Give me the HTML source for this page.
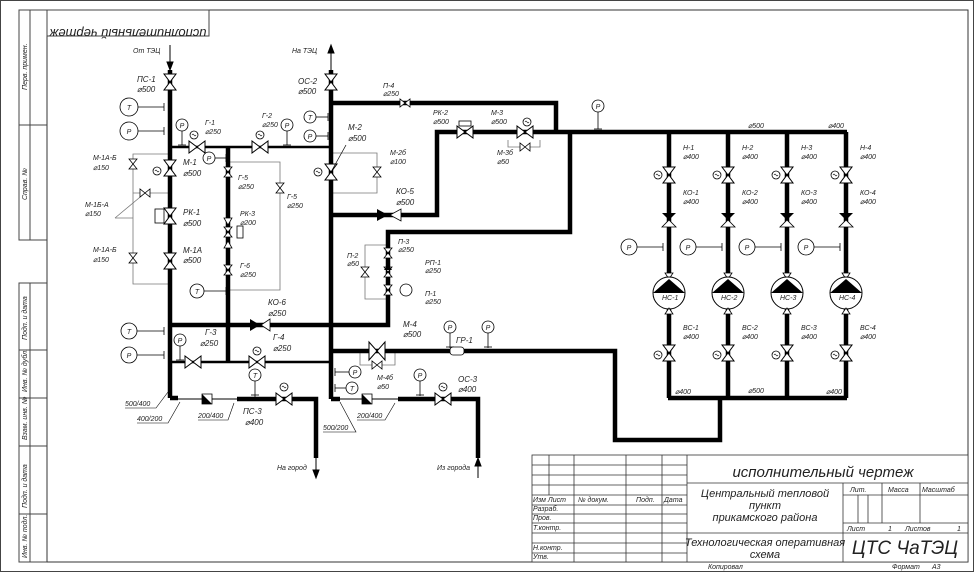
<!DOCTYPE html>
<html><head><meta charset="utf-8"><style>
html,body{margin:0;padding:0;background:#fff}
svg{display:block}
text{font-family:"Liberation Sans",sans-serif;font-style:italic;fill:#222}
.s{font-size:7px}
.m{font-size:8px}
</style></head><body>
<svg width="974" height="572" viewBox="0 0 974 572" xmlns="http://www.w3.org/2000/svg">
<defs>
<g id="vv"><polygon points="-6,-8 6,-8 0,0" fill="#fff" stroke="#000" stroke-width="1"/><polygon points="-6,8 6,8 0,0" fill="#fff" stroke="#000" stroke-width="1"/></g>
<g id="vh"><polygon points="-8,-6 -8,6 0,0" fill="#fff" stroke="#000" stroke-width="1"/><polygon points="8,-6 8,6 0,0" fill="#fff" stroke="#000" stroke-width="1"/></g>
<g id="vsv"><polygon points="-4,-5 4,-5 0,0" fill="#fff" stroke="#000" stroke-width="0.8"/><polygon points="-4,5 4,5 0,0" fill="#fff" stroke="#000" stroke-width="0.8"/></g>
<g id="vsh"><polygon points="-5,-4 -5,4 0,0" fill="#fff" stroke="#000" stroke-width="0.8"/><polygon points="5,-4 5,4 0,0" fill="#fff" stroke="#000" stroke-width="0.8"/></g>
<g id="act"><circle r="4" fill="#fff" stroke="#000" stroke-width="0.8"/><path d="M-2,0 q1,-2 2,0 t2,0" fill="none" stroke="#000" stroke-width="0.6"/></g>
</defs>
<rect x="0.5" y="0.5" width="973" height="571" fill="none" stroke="#444"/>
<!-- frame -->
<rect x="47" y="10" width="921" height="552" fill="none" stroke="#333" stroke-width="1"/>
<polyline points="47,10 19,10 19,240 47,240" fill="none" stroke="#444"/>
<line x1="30" y1="10" x2="30" y2="240" stroke="#444"/>
<line x1="19" y1="125" x2="47" y2="125" stroke="#444"/>
<polyline points="47,283 19,283 19,562 47,562" fill="none" stroke="#444"/>
<line x1="30" y1="283" x2="30" y2="562" stroke="#444"/>
<g stroke="#444"><line x1="19" y1="350" x2="47" y2="350"/><line x1="19" y1="398" x2="47" y2="398"/><line x1="19" y1="446" x2="47" y2="446"/><line x1="19" y1="514" x2="47" y2="514"/></g>
<g class="s">
<text transform="translate(27,90) rotate(-90)">Перв. примен.</text>
<text transform="translate(27,200) rotate(-90)">Справ. №</text>
<text transform="translate(27,340) rotate(-90)">Подп. и дата</text>
<text transform="translate(27,392) rotate(-90)">Инв. № дубл.</text>
<text transform="translate(27,440) rotate(-90)">Взам. инв. №</text>
<text transform="translate(27,508) rotate(-90)">Подп. и дата</text>
<text transform="translate(27,558) rotate(-90)">Инв. № подл.</text>
</g>
<rect x="47" y="10" width="162" height="26" fill="none" stroke="#444"/>
<text x="128" y="17" font-size="13" text-anchor="middle" transform="rotate(180 128 23)">исполнительный чертеж</text>

<!-- gray thin lines -->
<g stroke="#777" stroke-width="0.8" fill="none">
<polyline points="170,154 133,154 133,284 170,284"/>
<line x1="133" y1="193" x2="170" y2="193"/>
<polyline points="228,162 280,162 280,290 228,290"/>
<polyline points="331,153 377,153 377,193 331,193"/>
<polyline points="388,245 365,245 365,299 388,299"/>
<polyline points="508,140 508,147 540,147 540,140"/>
<polyline points="360,351 360,365 395,365 395,351"/>
<line x1="115" y1="218" x2="133" y2="218"/>
<line x1="115" y1="218" x2="145" y2="193"/>
</g>

<!-- thick pipes -->
<g stroke="#000" stroke-width="4.5" fill="none" stroke-linejoin="miter">
<line x1="170" y1="70" x2="170" y2="398"/>
<polyline points="331,70 331,399"/>
<polyline points="331,103 556,103 556,132"/>
<polyline points="331,215 437,215 437,132 847,132"/>
<polyline points="331,325 388,325 388,232 570,232 570,132"/>
<line x1="170" y1="325" x2="331" y2="325"/>
<line x1="228" y1="147" x2="228" y2="362"/>
<polyline points="331,351 615,351 615,440 720,440 720,398"/>
<line x1="668" y1="398" x2="847" y2="398"/>
<line x1="669" y1="132" x2="669" y2="398"/>
<line x1="728" y1="132" x2="728" y2="398"/>
<line x1="787" y1="132" x2="787" y2="398"/>
<line x1="846" y1="132" x2="846" y2="398"/>
<polyline points="237,399 316,399 316,458"/>
<polyline points="398,399 478,399 478,458"/>
<polyline points="170,398 178,398"/>
<polyline points="331,399 340,399"/>
</g>
<g stroke="#000" stroke-width="2.5" fill="none">
<line x1="170" y1="147" x2="331" y2="147"/>
<line x1="170" y1="362" x2="331" y2="362"/>
</g>
<g stroke="#000" stroke-width="1" fill="none">
<line x1="178" y1="399" x2="237" y2="399"/>
<line x1="340" y1="399" x2="398" y2="399"/>
<line x1="170" y1="45" x2="170" y2="70"/><polygon points="167,62 173,62 170,70" fill="#000"/>
<line x1="331" y1="45" x2="331" y2="70"/><polygon points="328,53 334,53 331,45" fill="#000"/>
<line x1="316" y1="458" x2="316" y2="478"/><polygon points="313,470 319,470 316,478" fill="#000"/>
<line x1="478" y1="458" x2="478" y2="478"/><polygon points="475,466 481,466 478,458" fill="#000"/>
</g>
<g class="s">
<text x="133" y="53">От ТЭЦ</text><text x="292" y="53">На ТЭЦ</text>
<text x="277" y="470">На город</text><text x="437" y="470">Из города</text>
</g>

<!-- valves left column -->
<use href="#vv" x="170" y="82"/><text class="m" x="137" y="82">ПС-1</text><text class="m" x="137" y="92">⌀500</text>
<use href="#vv" x="170" y="168"/><use href="#act" x="157" y="171"/><text class="m" x="183" y="165">М-1</text><text class="m" x="183" y="176">⌀500</text>
<use href="#vv" x="170" y="216"/><rect x="155" y="209" width="9" height="14" fill="#fff" stroke="#000" stroke-width="0.8"/><text class="m" x="183" y="215">РК-1</text><text class="m" x="183" y="226">⌀500</text>
<use href="#vv" x="170" y="261"/><text class="m" x="183" y="253">М-1А</text><text class="m" x="183" y="263">⌀500</text>
<use href="#vsv" x="133" y="164"/><text class="s" x="93" y="160">М-1А-Б</text><text class="s" x="93" y="170">⌀150</text>
<use href="#vsh" x="145" y="193"/><text class="s" x="85" y="207">М-1Б-А</text><text class="s" x="85" y="216">⌀150</text>
<use href="#vsv" x="133" y="258"/><text class="s" x="93" y="252">М-1А-Б</text><text class="s" x="93" y="262">⌀150</text>

<!-- gauges -->
<g fill="#fff" stroke="#000" stroke-width="0.8">
<circle cx="129" cy="107" r="9"/><circle cx="129" cy="131" r="9"/><circle cx="182" cy="125" r="6"/><circle cx="287" cy="125" r="6"/>
<circle cx="209" cy="158" r="6"/><circle cx="310" cy="117" r="6"/><circle cx="310" cy="136" r="6"/><circle cx="197" cy="291" r="7"/>
<circle cx="129" cy="331" r="8"/><circle cx="129" cy="355" r="8"/><circle cx="180" cy="340" r="6"/><circle cx="255" cy="375" r="6"/>
<circle cx="355" cy="372" r="6"/><circle cx="352" cy="388" r="6"/><circle cx="450" cy="327" r="6"/><circle cx="488" cy="327" r="6"/><circle cx="420" cy="375" r="6"/><circle cx="598" cy="106" r="6"/><circle cx="406" cy="290" r="6"/>
</g>
<g stroke="#000" stroke-width="0.8">
<line x1="138" y1="107" x2="164" y2="107"/><line x1="164" y1="103" x2="164" y2="111"/>
<line x1="138" y1="131" x2="164" y2="131"/><line x1="164" y1="127" x2="164" y2="135"/>
<line x1="182" y1="131" x2="182" y2="145"/><line x1="178" y1="145" x2="186" y2="145"/>
<line x1="287" y1="131" x2="287" y2="145"/><line x1="283" y1="145" x2="291" y2="145"/>
<line x1="215" y1="158" x2="226" y2="158"/><line x1="226" y1="154" x2="226" y2="162"/>
<line x1="316" y1="117" x2="328" y2="117"/><line x1="328" y1="113" x2="328" y2="121"/>
<line x1="316" y1="136" x2="328" y2="136"/><line x1="328" y1="132" x2="328" y2="140"/>
<line x1="204" y1="291" x2="226" y2="291"/><line x1="226" y1="287" x2="226" y2="295"/>
<line x1="137" y1="331" x2="164" y2="331"/><line x1="164" y1="327" x2="164" y2="335"/>
<line x1="137" y1="355" x2="164" y2="355"/><line x1="164" y1="351" x2="164" y2="359"/>
<line x1="180" y1="346" x2="180" y2="360"/><line x1="176" y1="360" x2="184" y2="360"/>
<line x1="255" y1="381" x2="255" y2="397"/><line x1="251" y1="395" x2="259" y2="395"/>
<line x1="335" y1="372" x2="349" y2="372"/><line x1="335" y1="368" x2="335" y2="376"/>
<line x1="335" y1="388" x2="346" y2="388"/><line x1="335" y1="384" x2="335" y2="392"/>
<line x1="450" y1="333" x2="450" y2="348"/><line x1="446" y1="347" x2="454" y2="347"/>
<line x1="488" y1="333" x2="488" y2="348"/><line x1="484" y1="347" x2="492" y2="347"/>
<line x1="420" y1="381" x2="420" y2="396"/><line x1="416" y1="395" x2="424" y2="395"/>
<line x1="598" y1="112" x2="598" y2="129"/><line x1="594" y1="129" x2="602" y2="129"/>
</g>
<g class="s" text-anchor="middle">
<text x="129" y="110">Т</text><text x="129" y="134">Р</text><text x="182" y="128">Р</text><text x="287" y="128">Р</text><text x="209" y="161">Р</text>
<text x="310" y="120">Т</text><text x="310" y="139">Р</text><text x="197" y="294">Т</text><text x="129" y="334">Т</text><text x="129" y="358">Р</text>
<text x="180" y="343">Р</text><text x="255" y="378">Т</text><text x="355" y="375">Р</text><text x="352" y="391">Т</text><text x="450" y="330">Р</text><text x="488" y="330">Р</text><text x="420" y="378">Р</text><text x="598" y="109">Р</text>
</g>

<!-- horizontal valves row 147 -->
<use href="#vh" x="197" y="147"/><use href="#act" x="194" y="135"/><text class="s" x="205" y="125">Г-1</text><text class="s" x="205" y="134">⌀250</text>
<use href="#vh" x="260" y="147"/><use href="#act" x="260" y="135"/><text class="s" x="262" y="118">Г-2</text><text class="s" x="262" y="127">⌀250</text>
<use href="#vsv" x="228" y="172"/><text class="s" x="238" y="180">Г-5</text><text class="s" x="238" y="189">⌀250</text>
<use href="#vsv" x="280" y="188"/><text class="s" x="287" y="199">Г-5</text><text class="s" x="287" y="208">⌀250</text>
<polygon points="224,218 232,218 228,225" fill="#fff" stroke="#000" stroke-width="0.8"/>
<use href="#vsv" x="228" y="232"/><rect x="237" y="226" width="6" height="12" fill="#fff" stroke="#000" stroke-width="0.8"/><text class="s" x="240" y="216">РК-3</text><text class="s" x="240" y="225">⌀200</text>
<polygon points="224,248 232,248 228,241" fill="#fff" stroke="#000" stroke-width="0.8"/>
<use href="#vsv" x="228" y="270"/><text class="s" x="240" y="268">Г-6</text><text class="s" x="240" y="277">⌀250</text>

<!-- right column 331 -->
<use href="#vv" x="331" y="82"/><text class="m" x="298" y="84">ОС-2</text><text class="m" x="298" y="94">⌀500</text>
<use href="#vv" x="331" y="172"/><use href="#act" x="318" y="172"/><text class="m" x="348" y="130">М-2</text><text class="m" x="348" y="141">⌀500</text>
<line x1="331" y1="172" x2="346" y2="145" stroke="#000" stroke-width="0.7"/>
<use href="#vsv" x="377" y="172"/><text class="s" x="390" y="155">М-2б</text><text class="s" x="390" y="164">⌀100</text>
<use href="#vsh" x="405" y="103"/><text class="s" x="383" y="88">П-4</text><text class="s" x="383" y="96">⌀250</text>
<polygon points="377,209 377,221 388,215" fill="#000"/><polygon points="401,209 401,221 390,215" fill="#fff" stroke="#000" stroke-width="0.8"/>
<text class="m" x="396" y="194">КО-5</text><text class="m" x="396" y="205">⌀500</text>

<use href="#vh" x="465" y="132"/><rect x="459" y="121" width="12" height="5" fill="#fff" stroke="#000" stroke-width="0.8"/><text class="s" x="433" y="115">РК-2</text><text class="s" x="433" y="124">⌀500</text>
<use href="#vh" x="525" y="132"/><use href="#act" x="527" y="122"/><text class="s" x="491" y="115">М-3</text><text class="s" x="491" y="124">⌀500</text>
<use href="#vsh" x="525" y="147"/><text class="s" x="497" y="155">М-3б</text><text class="s" x="497" y="164">⌀50</text>

<use href="#vsv" x="388" y="253"/><text class="s" x="398" y="244">П-3</text><text class="s" x="398" y="252">⌀250</text>
<use href="#vsv" x="388" y="272"/><polygon points="384,270 392,270 388,264" fill="#000"/><text class="s" x="425" y="265">РП-1</text><text class="s" x="425" y="273">⌀250</text>
<use href="#vsv" x="388" y="290"/><text class="s" x="425" y="296">П-1</text><text class="s" x="425" y="304">⌀250</text>
<use href="#vsv" x="365" y="272"/><text class="s" x="347" y="258">П-2</text><text class="s" x="347" y="266">⌀50</text>

<polygon points="250,319 250,331 260,325" fill="#000"/><polygon points="270,319 270,331 261,325" fill="#fff" stroke="#000" stroke-width="0.8"/>
<text class="m" x="268" y="305">КО-6</text><text class="m" x="268" y="316">⌀250</text>
<use href="#vh" x="193" y="362"/><text class="m" x="205" y="335">Г-3</text><text class="m" x="200" y="346">⌀250</text>
<use href="#vh" x="257" y="362"/><use href="#act" x="257" y="351"/><text class="m" x="273" y="340">Г-4</text><text class="m" x="273" y="351">⌀250</text>

<use href="#vh" x="377" y="351"/><polygon points="369,342 369,360 377,351" fill="#fff" stroke="#000"/><polygon points="385,342 385,360 377,351" fill="#fff" stroke="#000"/>
<text class="m" x="403" y="327">М-4</text><text class="m" x="403" y="337">⌀500</text>
<use href="#vsh" x="377" y="365"/><text class="s" x="377" y="380">М-4б</text><text class="s" x="377" y="389">⌀50</text>
<rect x="450" y="347" width="14" height="8" rx="3" fill="#fff" stroke="#000" stroke-width="0.8"/><text class="m" x="456" y="343">ГР-1</text>

<use href="#vh" x="284" y="399"/><use href="#act" x="284" y="387"/><text class="m" x="243" y="414">ПС-3</text><text class="m" x="245" y="425">⌀400</text>
<use href="#vh" x="443" y="399"/><use href="#act" x="443" y="387"/><text class="m" x="458" y="382">ОС-3</text><text class="m" x="458" y="392">⌀400</text>
<polygon points="202,394 212,394 212,404 202,404" fill="#fff" stroke="#000" stroke-width="0.8"/><polygon points="202,394 212,404 202,404" fill="#000"/>
<polygon points="362,394 372,394 372,404 362,404" fill="#fff" stroke="#000" stroke-width="0.8"/><polygon points="362,394 372,404 362,404" fill="#000"/>
<g class="s"><text x="125" y="406">500/400</text><text x="137" y="421">400/200</text><text x="198" y="418">200/400</text><text x="323" y="430">500/200</text><text x="357" y="418">200/400</text></g>
<g stroke="#000" stroke-width="0.6" fill="none"><polyline points="125,408 156,408 168,392"/><polyline points="137,423 168,423 180,402"/><polyline points="198,420 228,420 234,403"/><polyline points="323,432 356,432 340,402"/><polyline points="357,420 385,420 395,403"/></g>

<!-- pump columns -->
<g id="col">
<use href="#vv" x="669" y="175"/><use href="#act" x="658" y="175"/>
<polygon points="662,213 676,213 669,220" fill="#000"/><polygon points="662,227 676,227 669,220" fill="#fff" stroke="#000" stroke-width="0.8"/>
<circle cx="629" cy="247" r="8" fill="#fff" stroke="#000" stroke-width="0.8"/><line x1="637" y1="247" x2="663" y2="247" stroke="#000" stroke-width="0.8"/><line x1="663" y1="243" x2="663" y2="251" stroke="#000" stroke-width="0.8"/>
<text class="s" x="629" y="250" text-anchor="middle">Р</text>
<polygon points="665,273 673,273 669,279" fill="#fff" stroke="#000" stroke-width="0.8"/>
<circle cx="669" cy="293" r="16" fill="#fff" stroke="#000" stroke-width="1"/>
<polygon points="653,293 685,293 669,279" fill="#000"/>
<polygon points="665,314 673,314 669,308" fill="#fff" stroke="#000" stroke-width="0.8"/>
<use href="#vv" x="669" y="353"/><use href="#act" x="658" y="355"/>
</g>
<use href="#col" x="59"/><use href="#col" x="118"/><use href="#col" x="177"/>
<g class="s">
<text x="683" y="150">Н-1</text><text x="683" y="159">⌀400</text><text x="742" y="150">Н-2</text><text x="742" y="159">⌀400</text><text x="801" y="150">Н-3</text><text x="801" y="159">⌀400</text><text x="860" y="150">Н-4</text><text x="860" y="159">⌀400</text>
<text x="683" y="195">КО-1</text><text x="683" y="204">⌀400</text><text x="742" y="195">КО-2</text><text x="742" y="204">⌀400</text><text x="801" y="195">КО-3</text><text x="801" y="204">⌀400</text><text x="860" y="195">КО-4</text><text x="860" y="204">⌀400</text>
<text x="662" y="300">НС-1</text><text x="721" y="300">НС-2</text><text x="780" y="300">НС-3</text><text x="839" y="300">НС-4</text>
<text x="683" y="330">ВС-1</text><text x="683" y="339">⌀400</text><text x="742" y="330">ВС-2</text><text x="742" y="339">⌀400</text><text x="801" y="330">ВС-3</text><text x="801" y="339">⌀400</text><text x="860" y="330">ВС-4</text><text x="860" y="339">⌀400</text>
<text x="748" y="128">⌀500</text><text x="828" y="128">⌀400</text><text x="675" y="394">⌀400</text><text x="748" y="393">⌀500</text><text x="826" y="394">⌀400</text>
</g>

<!-- title block -->
<g stroke="#333" stroke-width="0.8" fill="none">
<rect x="532" y="455" width="436" height="107" fill="#fff"/>
<line x1="549" y1="455" x2="549" y2="495"/><line x1="574" y1="455" x2="574" y2="562"/><line x1="626" y1="455" x2="626" y2="562"/><line x1="662" y1="455" x2="662" y2="562"/><line x1="687" y1="455" x2="687" y2="562"/>
<line x1="532" y1="465" x2="687" y2="465"/><line x1="532" y1="475" x2="687" y2="475"/><line x1="532" y1="485" x2="687" y2="485"/><line x1="532" y1="495" x2="687" y2="495"/>
<line x1="532" y1="505" x2="687" y2="505"/><line x1="532" y1="514" x2="687" y2="514"/><line x1="532" y1="523" x2="687" y2="523"/><line x1="532" y1="533" x2="968" y2="533"/><line x1="532" y1="543" x2="687" y2="543"/><line x1="532" y1="553" x2="687" y2="553"/>
<line x1="687" y1="483" x2="968" y2="483"/><line x1="843" y1="483" x2="843" y2="562"/><line x1="843" y1="495" x2="968" y2="495"/><line x1="843" y1="523" x2="968" y2="523"/>
<line x1="882" y1="483" x2="882" y2="523"/><line x1="920" y1="483" x2="920" y2="523"/><line x1="858" y1="495" x2="858" y2="523"/><line x1="868" y1="495" x2="868" y2="523"/>
</g>
<text x="823" y="477" font-size="15" text-anchor="middle">исполнительный чертеж</text>
<g class="s"><text x="533" y="502">Изм Лист</text><text x="578" y="502">№ докум.</text><text x="636" y="502">Подп.</text><text x="664" y="502">Дата</text>
<text x="533" y="511">Разраб.</text><text x="533" y="520">Пров.</text><text x="533" y="530">Т.контр.</text><text x="533" y="550">Н.контр.</text><text x="533" y="559">Утв.</text>
<text x="850" y="492">Лит.</text><text x="888" y="492">Масса</text><text x="922" y="492">Масштаб</text><text x="847" y="531">Лист</text><text x="888" y="531">1</text><text x="905" y="531">Листов</text><text x="957" y="531">1</text>
<text x="708" y="569">Копировал</text><text x="892" y="569">Формат</text><text x="932" y="569">А3</text></g>
<g font-size="11" text-anchor="middle"><text x="765" y="497">Центральный тепловой</text><text x="765" y="509">пункт</text><text x="765" y="521">прикамского района</text>
<text x="765" y="546">Технологическая оперативная</text><text x="765" y="558">схема</text></g>
<text x="905" y="554" font-size="19" text-anchor="middle">ЦТС ЧаТЭЦ</text>
</svg>
</body></html>
